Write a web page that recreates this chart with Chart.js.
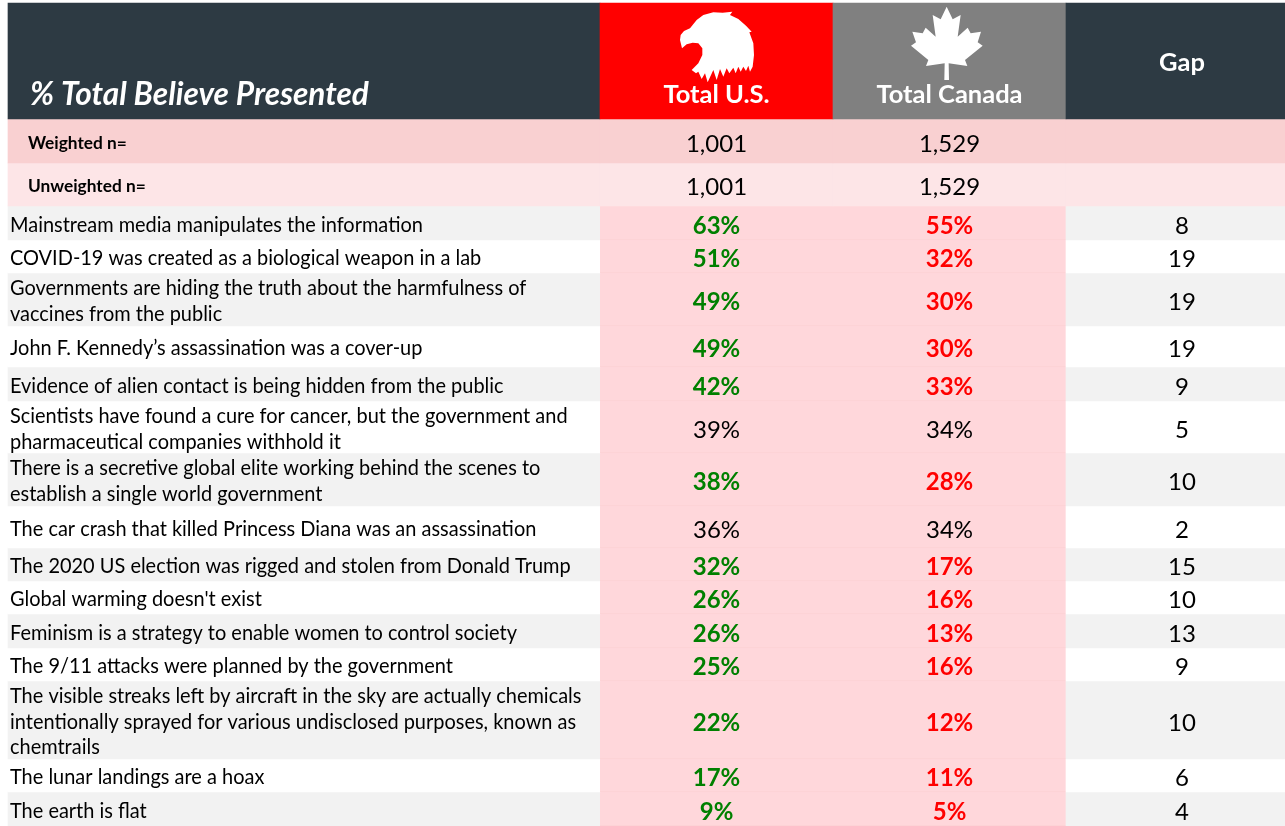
<!DOCTYPE html>
<html lang="en"><head>
<title>% Total Believe Presented</title>
<meta charset="utf-8">
<style type="text/css">
html,body { margin:0; padding:0; background:#ffffff; }
#chart1 { width:1285px; height:826px; }
</style>
<script src="https://cdn.jsdelivr.net/npm/chart.js"></script>
<script>
const tableTitle='% Total Believe Presented';
const columnNames=['Total U.S.','Total Canada','Gap'];
const sampleNames=['Weighted n=','Unweighted n='];
const usSample=['1,001','1,001'];
const canadaSample=['1,529','1,529'];

const categories=[
  ['Mainstream media manipulates the information'],
  ['COVID-19 was created as a biological weapon in a lab'],
  ['Governments are hiding the truth about the harmfulness of','vaccines from the public'],
  ['John F. Kennedy\u2019s assassination was a cover-up'],
  ['Evidence of alien contact is being hidden from the public'],
  ['Scientists have found a cure for cancer, but the government and','pharmaceutical companies withhold it'],
  ['There is a secretive global elite working behind the scenes to','establish a single world government'],
  ['The car crash that killed Princess Diana was an assassination'],
  ['The 2020 US election was rigged and stolen from Donald Trump'],
  ["Global warming doesn't exist"],
  ['Feminism is a strategy to enable women to control society'],
  ['The 9/11 attacks were planned by the government'],
  ['The visible streaks left by aircraft in the sky are actually chemicals','intentionally sprayed for various undisclosed purposes, known as','chemtrails'],
  ['The lunar landings are a hoax'],
  ['The earth is flat']];
const usValues=[63,51,49,49,42,39,38,36,32,26,26,25,22,17,9];
const canadaValues=[55,32,30,30,33,34,28,34,17,16,13,16,12,11,5];
const gapValues=[8,19,19,19,9,5,10,2,15,10,13,9,10,6,4];
const flagged=[1,1,1,1,1,0,1,0,1,1,1,1,1,1,1];

// table geometry, in page pixels
const colEdges=[8,600,833,1066,1285];
const rowEdges=[3,119,163,206,240,273,326,367,401,453,506,548,581,614,648,681,759,792,826];
const gapCentre=1182;
const lineStep=25.6;

const dark='#2d3a43', pink='#ffd7db', paleGrey='#f2f2f2';
const fontName='Lato,"Open Sans",sans-serif';

function rowColors(r) {
  if (r==0) return [dark,'#ff0000','#808080',dark];
  if (r==1) return ['#f9d0d1','#f9d0d1','#f9d0d1','#f9d0d1'];
  if (r==2) return ['#fde5e7','#fde5e7','#fde5e7','#fde5e7'];
  let side=(r%2==1)?paleGrey:'#ffffff';
  return [side,pink,pink,side]; }

function getDatasets() {
  let sets=[];
  for (let r=0;r<rowEdges.length-1;r++) {
    let rows=[];
    for (let c=0;c<colEdges.length-1;c++) {
      rows.push({x:[colEdges[c],colEdges[c+1]],y:(rowEdges[r]+rowEdges[r+1])/2}); }
    sets.push({label:r<3?'header':categories[r-3].join(' '),data:rows,
      barThickness:rowEdges[r+1]-rowEdges[r],grouped:false,
      backgroundColor:rowColors(r),
      borderColor:'#fcd2d5',
      borderSkipped:false,
      borderWidth:function(ctx){ return (r>2 && (ctx.dataIndex==1||ctx.dataIndex==2))?{top:0,bottom:1,left:0,right:0}:0; }}); }
  return sets; }

const eagleOutline=[[36,130],[30,105],[32,90],[42,78],[60,70],[80,45],[100,30],[130,22],[158,23],[187,20],[180,30],[205,42],[228,62],[245,80],[238,82],[250,115],[252,150],[248,185],[240,200],[235,182],[228,198],[220,185],[212,200],[205,185],[197,205],[190,188],[178,205],[170,190],[160,215],[150,192],[140,225],[130,195],[113,232],[105,205],[95,222],[85,200],[78,205],[65,195],[85,175],[97,150],[97,130],[85,115],[68,113],[50,118]];
const leafOutline=[[125,5],[143,43],[167,30],[158,95],[188,68],[197,85],[228,80],[218,112],[233,122],[180,165],[187,183],[131,175],[132,225],[118,225],[119,175],[63,183],[70,165],[18,122],[33,112],[22,80],[53,85],[62,68],[92,95],[83,30],[107,43]];

function drawIcon(ctx,outline,left,top) {
  ctx.save(); ctx.translate(left,top); ctx.scale(1/3,1/3);
  ctx.beginPath();
  outline.forEach(function(p,i){ if (i==0) ctx.moveTo(p[0],p[1]); else ctx.lineTo(p[0],p[1]); });
  ctx.closePath(); ctx.fillStyle='#ffffff'; ctx.fill(); ctx.restore(); }

// squeeze narrows Lato towards the look of the original face
function putText(ctx,text,x,y,font,color,align,squeeze) {
  let sx=squeeze||1;
  ctx.save(); ctx.translate(x,y); ctx.scale(sx,1);
  ctx.font=font+' '+fontName; ctx.fillStyle=color; ctx.textAlign=align||'center';
  ctx.textBaseline='middle'; ctx.fillText(text,0,0); ctx.restore(); }

// the table text goes on top of the bars, placed through the scales
const tableText={id:'tableText',afterDatasetsDraw(chart) {
  const ctx=chart.ctx, xs=chart.scales.x, ys=chart.scales.y;
  const px=function(v){return xs.getPixelForValue(v);}, py=function(v){return ys.getPixelForValue(v);};
  const usX=(colEdges[1]+colEdges[2])/2, caX=(colEdges[2]+colEdges[3])/2;
  ctx.save();
  drawIcon(ctx,eagleOutline,px(670),py(5));
  drawIcon(ctx,leafOutline,px(905),py(5));
  putText(ctx,tableTitle,px(30),py(95),'italic bold 31.6px','#ffffff','left');
  putText(ctx,columnNames[0],px(usX),py(95),'bold 25.5px','#ffffff');
  putText(ctx,columnNames[1],px(caX),py(95),'bold 25.5px','#ffffff');
  putText(ctx,columnNames[2],px(gapCentre),py(63),'bold 25.5px','#ffffff');
  for (let i=0;i<2;i++) {
    let mid=(rowEdges[i+1]+rowEdges[i+2])/2;
    putText(ctx,sampleNames[i],px(28),py(mid+2),'bold 17.3px','#000000','left');
    putText(ctx,usSample[i],px(usX),py(mid+3),'24px','#000000');
    putText(ctx,canadaSample[i],px(caX),py(mid+3),'24px','#000000'); }
  categories.forEach(function(lines,i) {
    let mid=(rowEdges[i+3]+rowEdges[i+4])/2;
    lines.forEach(function(line,k) {
      putText(ctx,line,px(10),py(mid+2+(k-(lines.length-1)/2)*lineStep),'21px','#000000','left',0.95); });
    let usFont=flagged[i]?'bold 24px':'24px', usColor=flagged[i]?'#008000':'#000000';
    let caFont=flagged[i]?'bold 24px':'24px', caColor=flagged[i]?'#ff0000':'#000000';
    putText(ctx,usValues[i]+'%',px(usX),py(mid+3),usFont,usColor);
    putText(ctx,canadaValues[i]+'%',px(caX),py(mid+3),caFont,caColor);
    putText(ctx,String(gapValues[i]),px(gapCentre),py(mid+3),'24px','#000000'); });
  ctx.restore(); }};

function initChart() {
  new Chart(document.getElementById('myChart'),{type:'bar',
    data:{datasets:getDatasets()},
    plugins:[tableText],
    options:{indexAxis:'y',responsive:false,animation:false,
      layout:{padding:0},
      scales:{
        x:{type:'linear',min:0,max:1285,display:false},
        y:{type:'linear',min:0,max:826,reverse:true,offset:false,display:false}},
      plugins:{legend:{display:false},tooltip:{enabled:false}}}}); }
</script></head>
<body onload="initChart();">
<div id="chart1"><canvas id="myChart" width="1285" height="826" style="display:block"></canvas></div>
</body></html>
